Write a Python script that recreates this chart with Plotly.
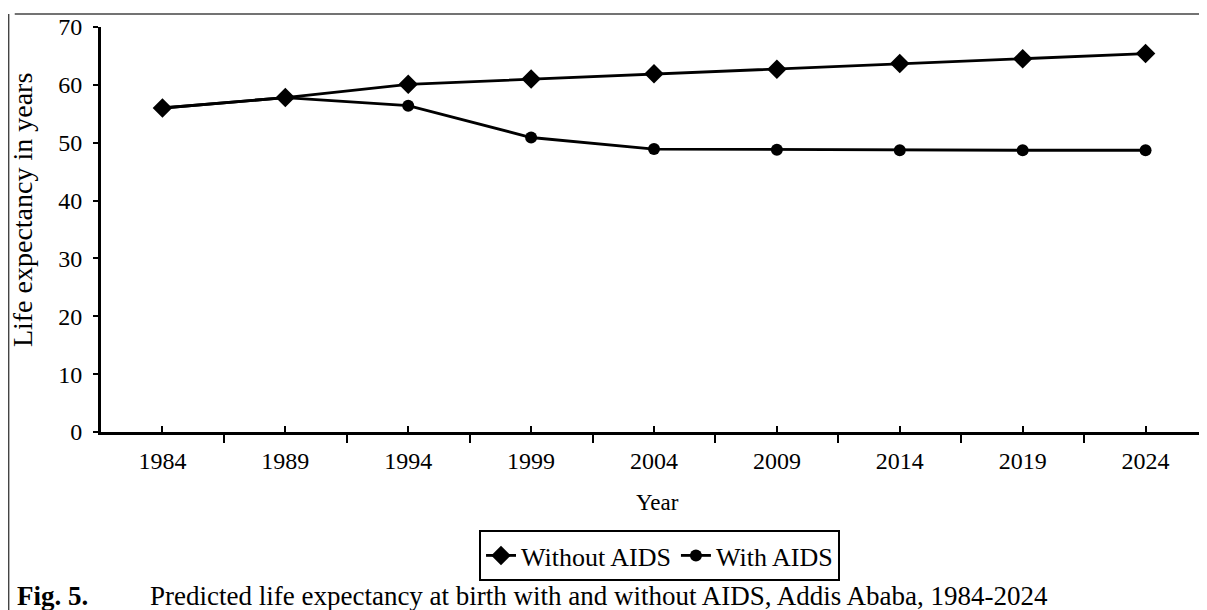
import plotly.graph_objects as go

years = [1984, 1989, 1994, 1999, 2004, 2009, 2014, 2019, 2024]
without_aids = [56.0, 57.8, 60.1, 61.0, 61.9, 62.7, 63.7, 64.5, 65.4]
with_aids = [56.0, 57.8, 56.4, 50.9, 48.9, 48.8, 48.7, 48.7, 48.7]
y_ticks = [0, 10, 20, 30, 40, 50, 60, 70]
boundaries = [y - 2.5 for y in years] + [years[-1] + 2.5]

FONT = "Liberation Serif"

fig = go.Figure()
fig.add_trace(go.Scatter(
    x=years, y=without_aids, name="Without AIDS", mode="lines+markers",
    line=dict(color="black", width=2.8),
    marker=dict(symbol="diamond", size=15, color="black"),
))
fig.add_trace(go.Scatter(
    x=years, y=with_aids, name="With AIDS", mode="lines+markers",
    line=dict(color="black", width=2.8),
    marker=dict(symbol="circle", size=12, color="black"),
))

# page has an 8px body margin: figure is sized/offset to compensate
fig.update_layout(
    width=1199, height=602,
    margin=dict(l=93, r=0, t=19, b=178, autoexpand=False),
    paper_bgcolor="white", plot_bgcolor="white",
    font=dict(family=FONT, size=24, color="black"),
    showlegend=True,
    legend=dict(
        orientation="h", x=0.505, xanchor="center", y=-0.242, yanchor="top",
        bordercolor="black", borderwidth=2, font=dict(size=26),
        tracegroupgap=0,
    ),
    xaxis=dict(
        range=[boundaries[0], boundaries[-1]],
        tickvals=years, ticktext=[str(y) for y in years],
        ticks="inside", ticklen=6, tickwidth=2, tickcolor="black",
        showline=True, linecolor="black", linewidth=2.8,
        showgrid=False, zeroline=False,
        minor=dict(tickvals=boundaries, ticks="outside", ticklen=8,
                   tickwidth=2, tickcolor="black"),
        ticklabelstandoff=5,
        tickfont=dict(size=24),
    ),
    yaxis=dict(
        range=[0, 70], tickvals=y_ticks,
        ticks="outside", ticklen=5, tickwidth=2, tickcolor="black",
        showline=True, linecolor="black", linewidth=2.8,
        showgrid=False, zeroline=False,
        ticklabelstandoff=6,
        tickfont=dict(size=24),
    ),
)

# axis titles
fig.add_annotation(text="Life expectancy in years", xref="paper", yref="paper",
                   x=-0.0714, xanchor="center", y=0.548, yanchor="middle",
                   textangle=-90, showarrow=False, font=dict(size=28))
fig.add_annotation(text="Year", xref="paper", yref="paper",
                   x=0.5036, xanchor="center", y=-0.175, yanchor="middle",
                   showarrow=False, font=dict(size=23))

# outer frame
fig.add_shape(type="line", xref="paper", yref="paper",
              x0=-0.078, x1=1.0, y0=1.032, y1=1.032,
              line=dict(color="#444", width=1.5))
fig.add_shape(type="line", xref="paper", yref="paper",
              x0=-0.0835, x1=-0.0835, y0=1.032, y1=-0.44,
              line=dict(color="#444", width=1.5))

# caption
fig.add_annotation(text="<b>Fig. 5.</b>", xref="paper", yref="paper",
                   x=-0.0778, xanchor="left", y=-0.405, yanchor="middle",
                   showarrow=False, font=dict(size=27))
fig.add_annotation(text="Predicted life expectancy at birth with and without AIDS, Addis Ababa, 1984-2024",
                   xref="paper", yref="paper",
                   x=0.0425, xanchor="left", y=-0.405, yanchor="middle",
                   showarrow=False, font=dict(size=27))

fig.write_html("out.html")
